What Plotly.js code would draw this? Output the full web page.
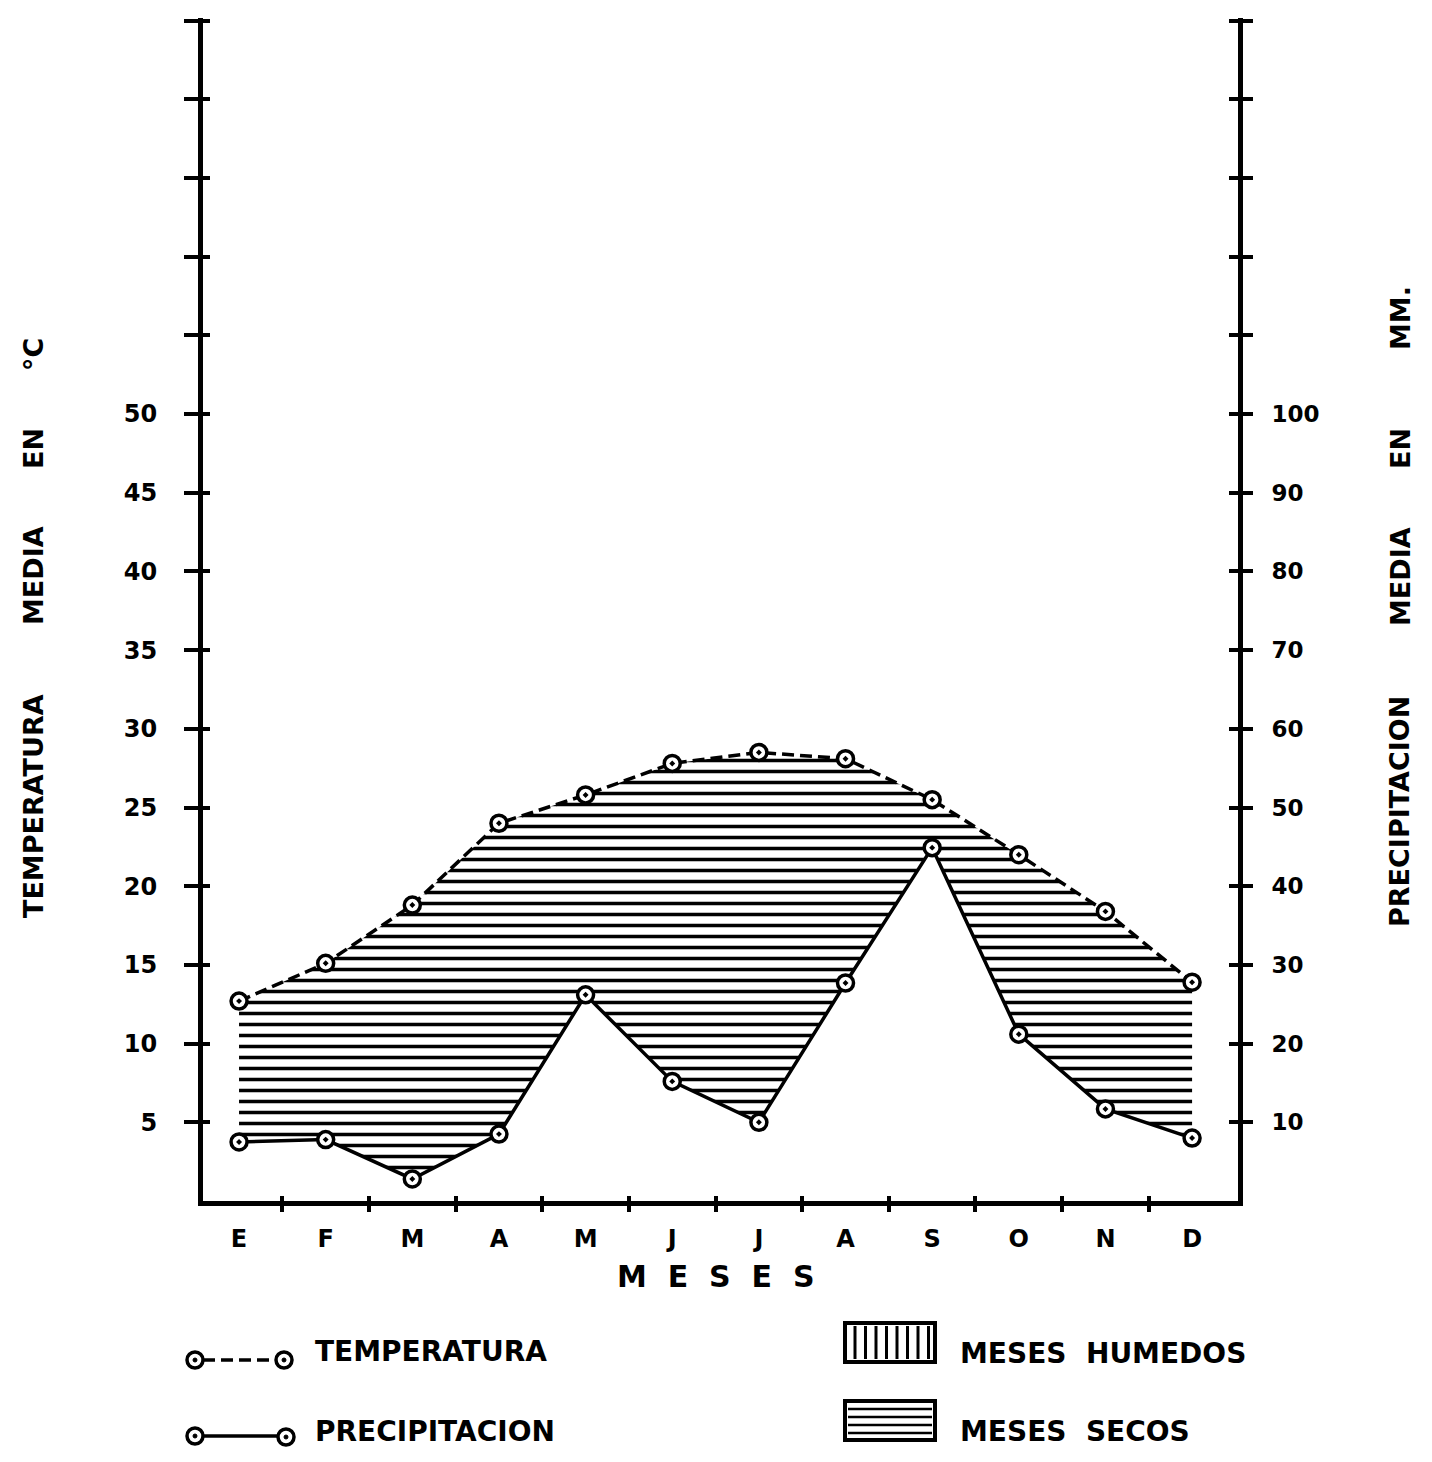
<!DOCTYPE html>
<html>
<head>
<meta charset="utf-8">
<script src="https://cdn.plot.ly/plotly-3.0.1.min.js"></script>
<style>html,body{margin:0;padding:0;background:#fff;}#chart{width:1432px;height:1462px;}</style>
</head>
<body>
<div id="chart"></div>
<script>
// ---- data ----
const months = ['E','F','M','A','M','J','J','A','S','O','N','D'];
const temperatura = [12.7, 15.1, 18.8, 24.0, 25.8, 27.8, 28.5, 28.1, 25.5, 22.0, 18.4, 13.9]; // °C
const precipitacion = [7.5, 7.8, 2.8, 8.5, 26.2, 15.2, 10.0, 27.7, 44.9, 21.2, 11.7, 8.0];  // mm
const tempTicks = [5,10,15,20,25,30,35,40,45,50,55,60,65,70,75];
const tempTickText = ['5','10','15','20','25','30','35','40','45','50','','','','',''];
const precTicks = [10,20,30,40,50,60,70,80,90,100,110,120,130,140,150];
const precTickText = ['10','20','30','40','50','60','70','80','90','100','','','','',''];

// ---- geometry helpers (layout only) ----
const L = 203, R = 1238, T = 18, B = 1201;
const W = 1432, H = 1462;
const X = px => (px - L) / (R - L);
const Y = py => (B - py) / (B - T);

const idx = months.map((_, i) => i);
const bounds = months.slice(1).map((_, i) => i + 0.5);
const FONT = 'DejaVu Sans';
const bold = (size) => ({family: FONT, size: size, color: 'black', weight: 700});

const markerStyle = {symbol: 'circle-dot', size: 16, color: 'white', line: {color: 'black', width: 3.5}};

const traces = [
  // lower boundary of the dry-month hatch: precipitation on the °C scale (P = 2T)
  {x: idx, y: precipitacion.map(p => p / 2), xaxis: 'x', yaxis: 'y', mode: 'lines',
   line: {width: 0, color: 'rgba(0,0,0,0)'}, hoverinfo: 'skip', showlegend: false},
  // temperature, hatched down to precipitation
  {x: idx, y: temperatura, xaxis: 'x', yaxis: 'y', mode: 'lines+markers', name: 'TEMPERATURA',
   fill: 'tonexty', fillcolor: 'white',
   fillpattern: {shape: '-', size: 11, solidity: 0.32, fgcolor: 'black', bgcolor: 'white', fgopacity: 1},
   line: {color: 'black', width: 3.5, dash: '12px,6px'}, marker: markerStyle, showlegend: false},
  // precipitation on mm axis
  {x: idx, y: precipitacion, xaxis: 'x', yaxis: 'y2', mode: 'lines+markers', name: 'PRECIPITACION',
   line: {color: 'black', width: 3.5}, marker: markerStyle, showlegend: false},
  // invisible carriers for tick overlay axes
  {x: [0], y: [temperatura[0]], xaxis: 'x2', yaxis: 'y', mode: 'markers', marker: {opacity: 0}, hoverinfo: 'skip', showlegend: false},
  {x: [0], y: [temperatura[0]], xaxis: 'x3', yaxis: 'y', mode: 'markers', marker: {opacity: 0}, hoverinfo: 'skip', showlegend: false},
  {x: [0], y: [temperatura[0]], xaxis: 'x', yaxis: 'y3', mode: 'markers', marker: {opacity: 0}, hoverinfo: 'skip', showlegend: false},
  {x: [0], y: [precipitacion[0]], xaxis: 'x', yaxis: 'y4', mode: 'markers', marker: {opacity: 0}, hoverinfo: 'skip', showlegend: false}
];

const xr = [-0.416, 11.53];
const yr = [0, 75.16];
const y2r = [0, 150.32];

const layout = {
  width: W, height: H,
  margin: {l: L, r: W - R, t: T, b: H - B, pad: 0},
  paper_bgcolor: 'white', plot_bgcolor: 'white',
  showlegend: false,
  xaxis: {range: xr, tickvals: idx, ticktext: months, ticks: '', tickfont: bold(24),
          ticklabelstandoff: 12, showline: true, linewidth: 5, linecolor: 'black',
          showgrid: false, zeroline: false, fixedrange: true},
  xaxis2: {overlaying: 'x', anchor: 'y', matches: 'x', range: xr, tickvals: bounds, ticks: 'outside',
           ticklen: 10, tickwidth: 4, tickcolor: 'black', showticklabels: false, showline: false,
           showgrid: false, zeroline: false},
  xaxis3: {overlaying: 'x', anchor: 'y', matches: 'x', range: xr, tickvals: bounds, ticks: 'inside',
           ticklen: 5, tickwidth: 4, tickcolor: 'black', showticklabels: false, showline: false,
           showgrid: false, zeroline: false},
  yaxis: {range: yr, tickvals: tempTicks, ticktext: tempTickText, ticks: 'outside', ticklen: 14,
          tickwidth: 4, tickcolor: 'black', tickfont: bold(24), ticklabelstandoff: 22,
          showline: true, linewidth: 5, linecolor: 'black', showgrid: false, zeroline: false},
  yaxis3: {overlaying: 'y', anchor: 'x', side: 'left', matches: 'y', range: yr, tickvals: tempTicks,
           ticks: 'inside', ticklen: 7, tickwidth: 4, tickcolor: 'black', showticklabels: false,
           showline: false, showgrid: false, zeroline: false},
  yaxis2: {overlaying: 'y', anchor: 'x', side: 'right', range: y2r, tickvals: precTicks, ticktext: precTickText,
           ticks: 'outside', ticklen: 10, tickwidth: 4, tickcolor: 'black', tickfont: bold(23),
           ticklabelstandoff: 14, showline: true, linewidth: 5, linecolor: 'black',
           showgrid: false, zeroline: false},
  yaxis4: {overlaying: 'y', anchor: 'x', side: 'right', matches: 'y2', range: y2r, tickvals: precTicks,
           ticks: 'inside', ticklen: 9, tickwidth: 4, tickcolor: 'black', showticklabels: false,
           showline: false, showgrid: false, zeroline: false},
  annotations: [],
  shapes: []
};

function ann(text, xpx, ypx, size, opts) {
  layout.annotations.push(Object.assign({
    text: text, xref: 'paper', yref: 'paper', x: X(xpx), y: Y(ypx),
    xanchor: 'center', yanchor: 'middle', showarrow: false, font: bold(size)
  }, opts || {}));
}

// axis titles (vertical, word by word as in the reference)
ann('TEMPERATURA', 33, 806, 27, {textangle: -90});
ann('MEDIA', 33, 576, 27, {textangle: -90});
ann('EN', 33, 449, 27, {textangle: -90});
ann('°C', 33, 355, 27, {textangle: -90});
ann('PRECIPITACION', 1400, 812, 27, {textangle: -90});
ann('MEDIA', 1400, 577, 27, {textangle: -90});
ann('EN', 1400, 449, 27, {textangle: -90});
ann('MM.', 1400, 318, 27, {textangle: -90});
ann('M\u00a0\u00a0E\u00a0\u00a0S\u00a0\u00a0E\u00a0\u00a0S', 716, 1276, 30);

// legend
ann('TEMPERATURA', 313, 1351, 28, {xanchor: 'left'});
ann('PRECIPITACION', 313, 1432, 28, {xanchor: 'left'});
ann('MESES\u00a0\u00a0HUMEDOS', 958, 1353, 28, {xanchor: 'left'});
ann('MESES\u00a0\u00a0SECOS', 958, 1432, 28, {xanchor: 'left'});

function line(x0, y0, x1, y1, w, dash) {
  layout.shapes.push({type: 'line', xref: 'paper', yref: 'paper', x0: X(x0), y0: Y(y0), x1: X(x1), y1: Y(y1),
    line: {color: 'black', width: w, dash: dash || 'solid'}});
}
function circ(cx, cy, r) {
  layout.shapes.push({type: 'circle', xref: 'paper', yref: 'paper', x0: X(cx - r), x1: X(cx + r), y0: Y(cy + r), y1: Y(cy - r),
    line: {color: 'black', width: 3.5}, fillcolor: 'white'});
  layout.shapes.push({type: 'circle', xref: 'paper', yref: 'paper', x0: X(cx - 2), x1: X(cx + 2), y0: Y(cy + 2), y1: Y(cy - 2),
    line: {color: 'black', width: 1}, fillcolor: 'black'});
}
line(203, 1360, 275, 1360, 3.5, '12px,6px');
circ(195, 1360, 8); circ(284, 1360, 8);
line(203, 1436, 277, 1436, 3.5);
circ(195, 1436, 8); circ(286, 1437, 8);

// hatched legend boxes
function rect(x0, y0, x1, y1) {
  layout.shapes.push({type: 'rect', xref: 'paper', yref: 'paper', x0: X(x0), x1: X(x1), y0: Y(y1), y1: Y(y0),
    line: {color: 'black', width: 4}, fillcolor: 'white'});
}
rect(845, 1323, 935, 1362);
for (let k = 0; k < 8; k++) { const xx = 855 + k * 10.5; line(xx, 1326, xx, 1359, 3); }
rect(845, 1401, 935, 1440);
for (let k = 0; k < 4; k++) { const yy = 1409 + k * 8; line(848, yy, 932, yy, 2.5); }

Plotly.newPlot('chart', traces, layout, {staticPlot: true, displayModeBar: false});
</script>
</body>
</html>
